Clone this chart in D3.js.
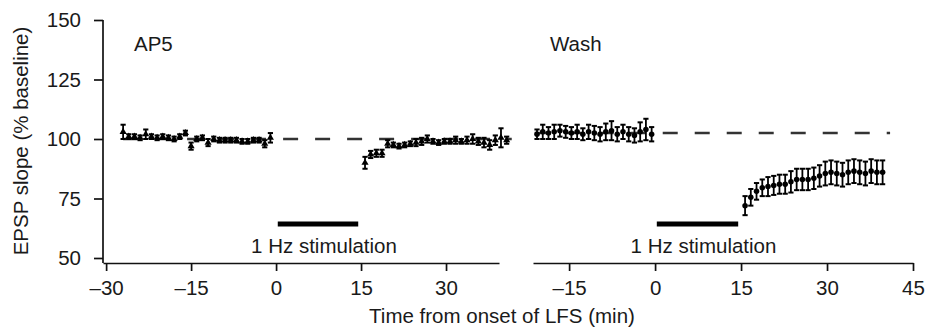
<!DOCTYPE html>
<html lang="en">
	<head>
		<meta charset="UTF-8" />
		<title>EPSP slope AP5 / Wash</title>
		<script src="https://d3js.org/d3.v7.min.js"></script>
		<style>
			body { margin: 0; background: #fff; }
			text { font-family: "Liberation Sans", Arial, sans-serif; fill: #1a1a1a; }
		</style>
	</head>
	<body>
		<svg id="chart"></svg>
		<script>
			// ---- data ----
			var ap5PreT = [-27, -26, -25, -24, -23, -22, -21, -20, -19, -18, -17, -16, -15, -14, -13, -12, -11, -10, -9, -8, -7, -6, -5, -4, -3, -2, -1];
			var ap5PreV = [103, 101, 101, 100.5, 102, 101, 100.5, 101, 100.5, 100, 101, 102.5, 97, 100, 100.5, 98.5, 100, 99.5, 99.5, 99.5, 99.5, 99, 99, 99.5, 99.5, 98, 100.5];
			var ap5PreE = [3, 1, 1, 1, 2, 1, 1, 1, 1, 1, 1, 1, 1.5, 1, 1, 1.5, 1, 1, 1, 1, 1, 1, 1, 1, 1, 1.5, 2];

			var ap5PostT = [15.7, 16.7, 17.7, 18.7, 19.7, 20.7, 21.7, 22.7, 23.7, 24.7, 25.7, 26.7, 27.7, 28.7, 29.7, 30.7, 31.7, 32.7, 33.7, 34.7, 35.7, 36.7, 37.7, 38.7, 39.7, 40.7];
			var ap5PostV = [90, 93.5, 94, 94, 98, 97.5, 97, 97.5, 98, 98.5, 99, 100, 99, 98.5, 99, 99, 99.5, 99, 99.5, 100, 99, 98.5, 97.5, 99.5, 100.5, 99.5];
			var ap5PostE = [2.5, 1.5, 1.5, 1.5, 1.5, 1, 1, 1, 1, 1.5, 1.5, 1.5, 1, 1, 1, 1, 1.5, 1, 1.5, 2, 1.5, 2, 2, 2, 4, 1.5];

			var washPreT = [-20.6, -19.6, -18.6, -17.6, -16.6, -15.6, -14.6, -13.6, -12.6, -11.6, -10.6, -9.6, -8.6, -7.6, -6.6, -5.6, -4.6, -3.6, -2.6, -1.6, -0.6];
			var washPreV = [102, 103, 102.5, 103, 103.5, 103, 102.5, 103, 102, 103, 102.5, 102, 103, 103.5, 102, 103, 102, 101.5, 103, 104, 102];
			var washPreE = [2, 3, 2.5, 3, 2.5, 2.5, 2.5, 3, 2.5, 3, 3, 3, 3.5, 4, 3, 3, 3, 3, 4, 4.5, 3];

			var washPostT = [15.7, 16.7, 17.7, 18.7, 19.7, 20.7, 21.7, 22.7, 23.7, 24.7, 25.7, 26.7, 27.7, 28.7, 29.7, 30.7, 31.7, 32.7, 33.7, 34.7, 35.7, 36.7, 37.7, 38.7, 39.7];
			var washPostV = [72, 75.5, 78, 79.5, 80, 80.5, 81, 81, 82, 83, 83, 83, 83.5, 84.5, 85.5, 86, 85.5, 85, 86, 86.5, 86, 85.5, 86.5, 86, 86];
			var washPostE = [4, 3.5, 3.5, 3.5, 4, 4, 4, 4, 4.5, 4.5, 4.5, 4.5, 4.5, 4.5, 5, 5, 5, 5, 5, 5, 5, 5, 5, 5, 5];

			var yTicks = [50, 75, 100, 125, 150];
			var ap5Ticks = [-30, -15, 0, 15, 30];
			var washTicks = [-15, 0, 15, 30, 45];

			// [start, end, level] for the dashed reference lines
			var ap5Ref = [-27, 41.6, 100];
			var washRef = [-21, 41, 102.5];
			// [start, end] of the 1 Hz stimulation bar
			var stim = [0.3, 14.5];
			var stimLevel = 64.3;
			var stimLabelLevel = 52;

			var width = 926;
			var height = 334;
			var axisY = 263;

			var svg = d3.select("#chart").attr("width", width).attr("height", height);

			var y = d3.scaleLinear().domain([50, 150]).range([258, 20]);
			var xL = d3.scaleLinear().domain([-30.55, 39.35]).range([103, 499]);
			var xR = d3.scaleLinear().domain([-21.3, 45]).range([533, 913]);

			function zip(t, v, e) {
				return t.map(function (d, i) {
					return { t: d, v: v[i], e: e[i] };
				});
			}

			// y axis (left panel only)
			var gy = svg.append("g").attr("transform", "translate(" + xL.range()[0] + ",0)");
			gy.call(d3.axisLeft(y).tickValues(yTicks).tickSize(9).tickSizeOuter(0).tickPadding(13));
			gy.select(".domain").remove();
			gy.append("line")
				.attr("y1", y(150)).attr("y2", axisY)
				.attr("stroke", "#111").attr("stroke-width", 1.7);
			gy.selectAll(".tick line").attr("stroke", "#111").attr("stroke-width", 1.7);
			gy.selectAll(".tick text").attr("font-size", 20.5).attr("fill", "#1a1a1a")
				.attr("font-family", "Liberation Sans, Arial, sans-serif");

			function xAxis(x, ticks) {
				var g = svg.append("g").attr("transform", "translate(0," + axisY + ")");
				g.call(d3.axisBottom(x).tickValues(ticks).tickSize(8).tickSizeOuter(0).tickPadding(9)
					.tickFormat(function (d) { return d < 0 ? "\u2013" + Math.abs(d) : d; }));
				g.select(".domain").attr("stroke", "#111").attr("stroke-width", 1.7);
				g.selectAll(".tick line").attr("stroke", "#111").attr("stroke-width", 1.7);
				g.selectAll(".tick text").attr("font-size", 20.5).attr("fill", "#1a1a1a")
					.attr("font-family", "Liberation Sans, Arial, sans-serif");
			}
			xAxis(xL, ap5Ticks);
			xAxis(xR, washTicks);

			function panel(x, ref, pre, post, shape, title, titleX) {
				var g = svg.append("g");

				g.append("line")
					.attr("x1", x(ref[0])).attr("x2", x(ref[1]))
					.attr("y1", y(ref[2])).attr("y2", y(ref[2]))
					.attr("stroke", "#333").attr("stroke-width", 2.4)
					.attr("stroke-dasharray", "15,17");

				var pts = pre.concat(post);
				var eb = g.selectAll(".eb").data(pts).enter().append("g").attr("class", "eb");
				eb.append("line")
					.attr("x1", function (d) { return x(d.t); })
					.attr("x2", function (d) { return x(d.t); })
					.attr("y1", function (d) { return y(d.v + d.e); })
					.attr("y2", function (d) { return y(d.v - d.e); })
					.attr("stroke", "#000").attr("stroke-width", 1.8);
				[1, -1].forEach(function (s) {
					eb.append("line")
						.attr("x1", function (d) { return x(d.t) - 2.6; })
						.attr("x2", function (d) { return x(d.t) + 2.6; })
						.attr("y1", function (d) { return y(d.v + s * d.e); })
						.attr("y2", function (d) { return y(d.v + s * d.e); })
						.attr("stroke", "#000").attr("stroke-width", 2);
				});

				var sym = d3.symbol().type(shape).size(shape === d3.symbolCircle ? 24 : 22);
				g.selectAll(".pt").data(pts).enter().append("path")
					.attr("class", "pt")
					.attr("transform", function (d) { return "translate(" + x(d.t) + "," + y(d.v) + ")"; })
					.attr("d", sym)
					.attr("fill", "#000");

				// stimulation bar + label
				g.append("line")
					.attr("x1", x(stim[0])).attr("x2", x(stim[1]))
					.attr("y1", y(stimLevel)).attr("y2", y(stimLevel))
					.attr("stroke", "#000").attr("stroke-width", 5);
				g.append("text")
					.attr("x", x((stim[0] + stim[1]) / 2) + 6)
					.attr("y", y(stimLabelLevel))
					.attr("text-anchor", "middle")
					.attr("font-size", 20.5)
					.text("1 Hz stimulation");

				g.append("text")
					.attr("x", titleX)
					.attr("y", 51)
					.attr("font-size", 20.5)
					.text(title);
			}

			panel(xL, ap5Ref, zip(ap5PreT, ap5PreV, ap5PreE), zip(ap5PostT, ap5PostV, ap5PostE),
				d3.symbolTriangle, "AP5", 134);
			panel(xR, washRef, zip(washPreT, washPreV, washPreE), zip(washPostT, washPostV, washPostE),
				d3.symbolCircle, "Wash", 550);

			// axis titles
			svg.append("text")
				.attr("transform", "translate(28,141) rotate(-90)")
				.attr("text-anchor", "middle")
				.attr("font-size", 20.5)
				.text("EPSP slope (% baseline)");
			svg.append("text")
				.attr("x", 502)
				.attr("y", 323)
				.attr("text-anchor", "middle")
				.attr("font-size", 20.5)
				.text("Time from onset of LFS (min)");
		</script>
	</body>
</html>
